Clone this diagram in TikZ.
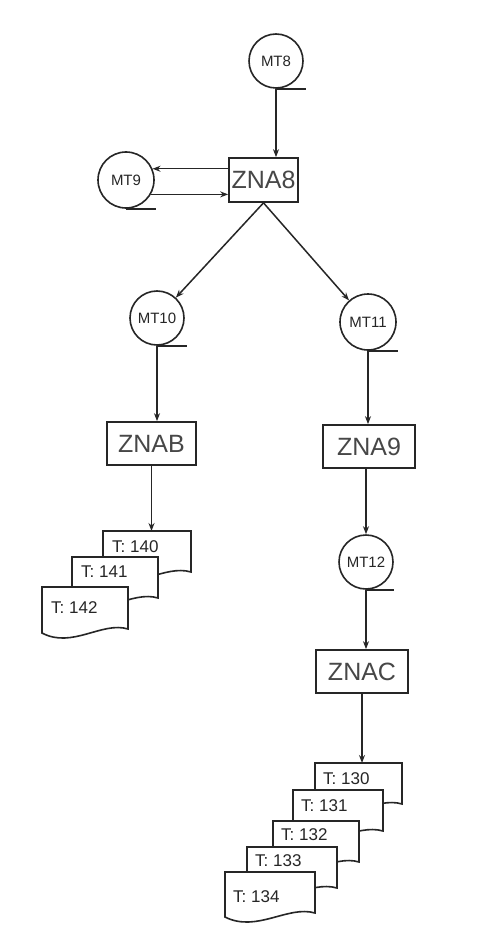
\documentclass[tikz,border=0pt]{standalone}
\usepackage{fontspec}
\setmainfont{Liberation Sans}
\usetikzlibrary{arrows.meta,calc}
\definecolor{ink}{HTML}{262626}
\newcommand{\mydoc}[5]{%
  \coordinate (#1) at (#2,#3);
  \draw[docshape] (#2,#3) -- ({#2+#4},#3) -- ({#2+#4},{#3+#5-4})
    .. controls ({#2+0.7*#4},{#3+#5-12}) and ({#2+0.35*#4},{#3+#5+16}) .. (#2,{#3+#5}) -- cycle;
}
\begin{document}
\begin{tikzpicture}[x=1pt,y=-1pt,
  tape/.style={circle,draw=ink,line width=1.6pt,minimum size=54pt,inner sep=0pt,font=\fontsize{15}{15}\selectfont,text=ink},
  box/.style={rectangle,draw=ink,line width=1.7pt,minimum height=43pt,inner sep=0pt,font=\fontsize{25}{25}\selectfont,text=ink!85},
  docshape/.style={draw=ink,line width=1.6pt,fill=white},
  doclabel/.style={inner sep=0pt,anchor=west,font=\fontsize{17}{17}\selectfont,text=ink},
  tapeline/.style={draw=ink,line width=1.6pt},
  arr/.style={draw=ink,line width=1.5pt,-{Stealth[length=8pt,width=6pt]}}]
\useasboundingbox[fill=white] (0,0) rectangle (489,925);

% tapes and boxes
\node[tape] (mt8) at (276,61) {MT8};
\node[box,minimum width=69pt,minimum height=44pt] (zna8) at (263.5,180) {ZNA8};
\node[tape,minimum size=56pt] (mt9) at (126,180) {MT9};
\node[tape] (mt10) at (157,318) {MT10};
\node[tape,minimum size=56pt] (mt11) at (368,322) {MT11};
\node[box,minimum width=89pt] (znab) at (151.5,443.5) {ZNAB};
\node[box,minimum width=92pt] (zna9) at (369,446.5) {ZNA9};
\node[tape] (mt12) at (366,562) {MT12};
\node[box,minimum width=92pt] (znac) at (362,671.5) {ZNAC};

% tape lines
\draw[tapeline] (mt8.south) -- ++(30,0);
\draw[tapeline] (mt9.south) -- ++(30,0);
\draw[tapeline] (mt10.south) -- ++(30,0);
\draw[tapeline] (mt11.south) -- ++(30,0);
\draw[tapeline] (mt12.south) -- ++(28,0);

% documents, left stack (back to front)
\mydoc{d140}{103}{531}{88}{45}
\node[doclabel] (t140) at ($(d140)+(9,16)$) {T: 140};
\mydoc{d141}{72}{557}{86}{45}
\node[doclabel] (t141) at ($(d141)+(9,15)$) {T: 141};
\mydoc{d142}{42}{587}{86}{46}
\node[doclabel] (t142) at ($(d142)+(9,21)$) {T: 142};

% documents, right stack (back to front)
\mydoc{d130}{315}{763}{87}{45}
\node[doclabel] (t130) at ($(d130)+(8,16)$) {T: 130};
\mydoc{d131}{293}{790}{90}{45}
\node[doclabel] (t131) at ($(d131)+(8,16)$) {T: 131};
\mydoc{d132}{273}{821}{86}{45}
\node[doclabel] (t132) at ($(d132)+(8,14)$) {T: 132};
\mydoc{d133}{247}{847}{90}{45}
\node[doclabel] (t133) at ($(d133)+(8,14)$) {T: 133};
\mydoc{d134}{225}{872}{90}{45}
\node[doclabel] (t134) at ($(d134)+(8,25)$) {T: 134};

% connectors
\draw[arr] (mt8.south) -- (mt8.south |- zna8.north);
\draw[arr] (zna8.west |- mt9.23) -- (mt9.23);
\draw[arr] (mt9.-30) -- (mt9.-30 -| zna8.west);
\draw[arr] (zna8.south) -- (mt10);
\draw[arr] (zna8.south) -- (mt11);
\draw[arr] (mt10.south) -- (mt10.south |- znab.north);
\draw[arr] (znab.south) -- (znab.south |- d140);
\draw[arr] (mt11.south) -- (mt11.south |- zna9.north);
\draw[arr] (mt12.north |- zna9.south) -- (mt12.north);
\draw[arr] (mt12.south) -- (mt12.south |- znac.north);
\draw[arr] (znac.south) -- (znac.south |- d130);
\end{tikzpicture}
\end{document}
